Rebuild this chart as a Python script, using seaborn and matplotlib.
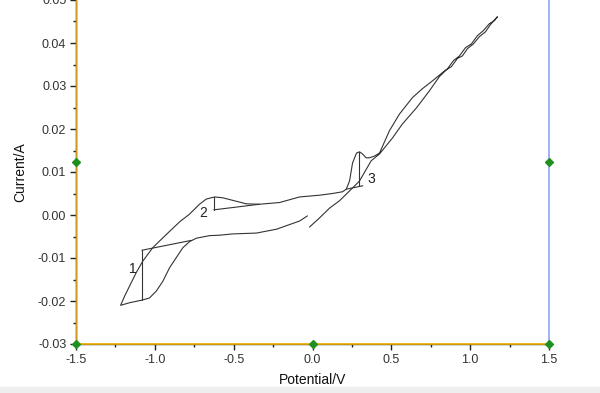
import numpy as np
import pandas as pd
import matplotlib
matplotlib.use("Agg")
import matplotlib.pyplot as plt
import seaborn as sns

# Cyclic voltammogram, traced in scan order
potential = [-0.019, 0.044, 0.108, 0.171, 0.235, 0.298, 0.372, 0.425, 0.507, 0.571, 0.659, 0.742, 0.805,
             0.850, 0.881, 0.919, 0.951, 0.983, 1.021, 1.059, 1.097, 1.129, 1.167, 1.173,
             1.154, 1.122, 1.084, 1.046, 1.008, 0.970, 0.932, 0.894, 0.856, 0.824,
             0.761, 0.698, 0.634, 0.552, 0.488, 0.425, 0.393, 0.361, 0.340, 0.317, 0.298, 0.279,
             0.254, 0.235, 0.214, 0.190, 0.127, 0.044, -0.082, -0.209, -0.336, -0.420,
             -0.505, -0.569, -0.621, -0.674, -0.717, -0.780, -0.843, -0.949, -1.013, -1.076,
             -1.118, -1.160, -1.192, -1.217,
             -1.160, -1.082, -1.034, -0.991, -0.949, -0.907, -0.864, -0.822, -0.780, -0.737,
             -0.653, -0.590, -0.507, -0.355, -0.228, -0.082, -0.032]
current = [-0.0028, -0.0007, 0.0016, 0.0033, 0.0056, 0.0079, 0.0126, 0.0142, 0.0179, 0.0212, 0.0249, 0.0289, 0.0322,
           0.0338, 0.0345, 0.0364, 0.0370, 0.0387, 0.0398, 0.0415, 0.0426, 0.0443, 0.0459, 0.0461,
           0.0452, 0.0445, 0.0429, 0.0417, 0.0398, 0.0389, 0.0370, 0.0359, 0.0340, 0.0331,
           0.0312, 0.0294, 0.0273, 0.0235, 0.0196, 0.0144, 0.0137, 0.0133, 0.0133, 0.0142, 0.0147, 0.0144,
           0.0121, 0.0079, 0.0060, 0.0054, 0.0050, 0.0046, 0.0042, 0.0029, 0.0025, 0.0026,
           0.0034, 0.0040, 0.0042, 0.0037, 0.0025, 0.0002, -0.0016, -0.0053, -0.0076, -0.0107,
           -0.0134, -0.0165, -0.0189, -0.0210,
           -0.0204, -0.0198, -0.0193, -0.0177, -0.0154, -0.0123, -0.0099, -0.0076, -0.0062, -0.0054,
           -0.0048, -0.0047, -0.0044, -0.0042, -0.0033, -0.0014, -0.0002]

# peak annotations: vertical drop lines and baselines
peak_labels = ["1", "2", "3"]
peak_v = [-1.082, -0.626, 0.298]
peak_top = [-0.0082, 0.0042, 0.0147]
peak_bottom = [-0.0198, 0.0012, 0.0068]
base_start_v = [-1.082, -0.626, 0.214]
base_start_i = [-0.0082, 0.0012, 0.0060]
base_end_v = [-0.769, -0.336, 0.319]
base_end_i = [-0.0059, 0.0025, 0.0068]
label_v = [-1.140, -0.691, 0.374]
label_i = [-0.0126, 0.0005, 0.0084]

marker_v = [-1.5, 1.5, -1.5, 0.0, 1.5]
marker_i = [0.0124, 0.0124, -0.03, -0.03, -0.03]

x_ticks = [-1.5, -1.0, -0.5, 0.0, 0.5, 1.0, 1.5]
y_ticks = [-0.03, -0.02, -0.01, 0.00, 0.01, 0.02, 0.03, 0.04, 0.05]

sns.set_style("ticks")
plt.rcParams['font.family'] = ['Liberation Sans', 'DejaVu Sans']

fig = plt.figure(figsize=(6.0, 3.93), dpi=100)
fig.patches.append(plt.Rectangle((0, 0), 1, 6 / 393, transform=fig.transFigure,
                                 color="#eeeeee", zorder=0))
ax = fig.add_axes([76 / 600, 49 / 393, 473 / 600, 344 / 393])

df = pd.DataFrame({"Potential": potential, "Current": current})
sns.lineplot(data=df, x="Potential", y="Current", sort=False, estimator=None,
             color="#333333", lw=0.8, ax=ax)

for k in range(len(peak_labels)):
    ax.plot([peak_v[k], peak_v[k]], [peak_bottom[k], peak_top[k]], color="#333333", lw=0.8)
    ax.plot([base_start_v[k], base_end_v[k]], [base_start_i[k], base_end_i[k]],
            color="#333333", lw=0.8)
    ax.text(label_v[k], label_i[k], peak_labels[k], fontsize=10, color="#222222",
            ha="center", va="center")

ax.set_xlim(-1.5, 1.5)
ax.set_ylim(-0.03, 0.05)
ax.set_xticks(x_ticks)
ax.set_yticks(y_ticks)
ax.set_xticklabels([f"{v:.1f}" for v in x_ticks])
ax.set_yticklabels([f"{v:.2f}" for v in y_ticks])
ax.set_xticks(np.arange(-1.25, 1.5, 0.5), minor=True)
ax.set_yticks(np.arange(-0.025, 0.05, 0.01), minor=True)
ax.tick_params(which="major", direction="out", length=4, width=1, color="#222222",
               labelsize=9, labelcolor="#333333", pad=3)
ax.tick_params(which="minor", direction="out", length=2.5, width=1, color="#222222")

for s in ["top", "right"]:
    ax.spines[s].set_visible(False)
for s in ["left", "bottom"]:
    ax.spines[s].set_color("#222222")
    ax.spines[s].set_linewidth(1)

ax.axhline(-0.03, color="#f0b400", lw=1.2, zorder=3, clip_on=False)
ax.axvline(-1.5, color="#d09a20", lw=1.0, zorder=3, clip_on=False)
ax.axvline(1.5, color="#8ea6f2", lw=1.2, zorder=3, clip_on=False)
ax.scatter(marker_v, marker_i, marker="D", s=16, color="#1f8f1f", zorder=5, clip_on=False)

ax.set_xlabel("Potential/V", fontsize=10, color="#111111", labelpad=5)
ax.set_ylabel("Current/A", fontsize=10, color="#111111", labelpad=8)
ax.patch.set_alpha(0)

fig.savefig("out.png", dpi=100)
